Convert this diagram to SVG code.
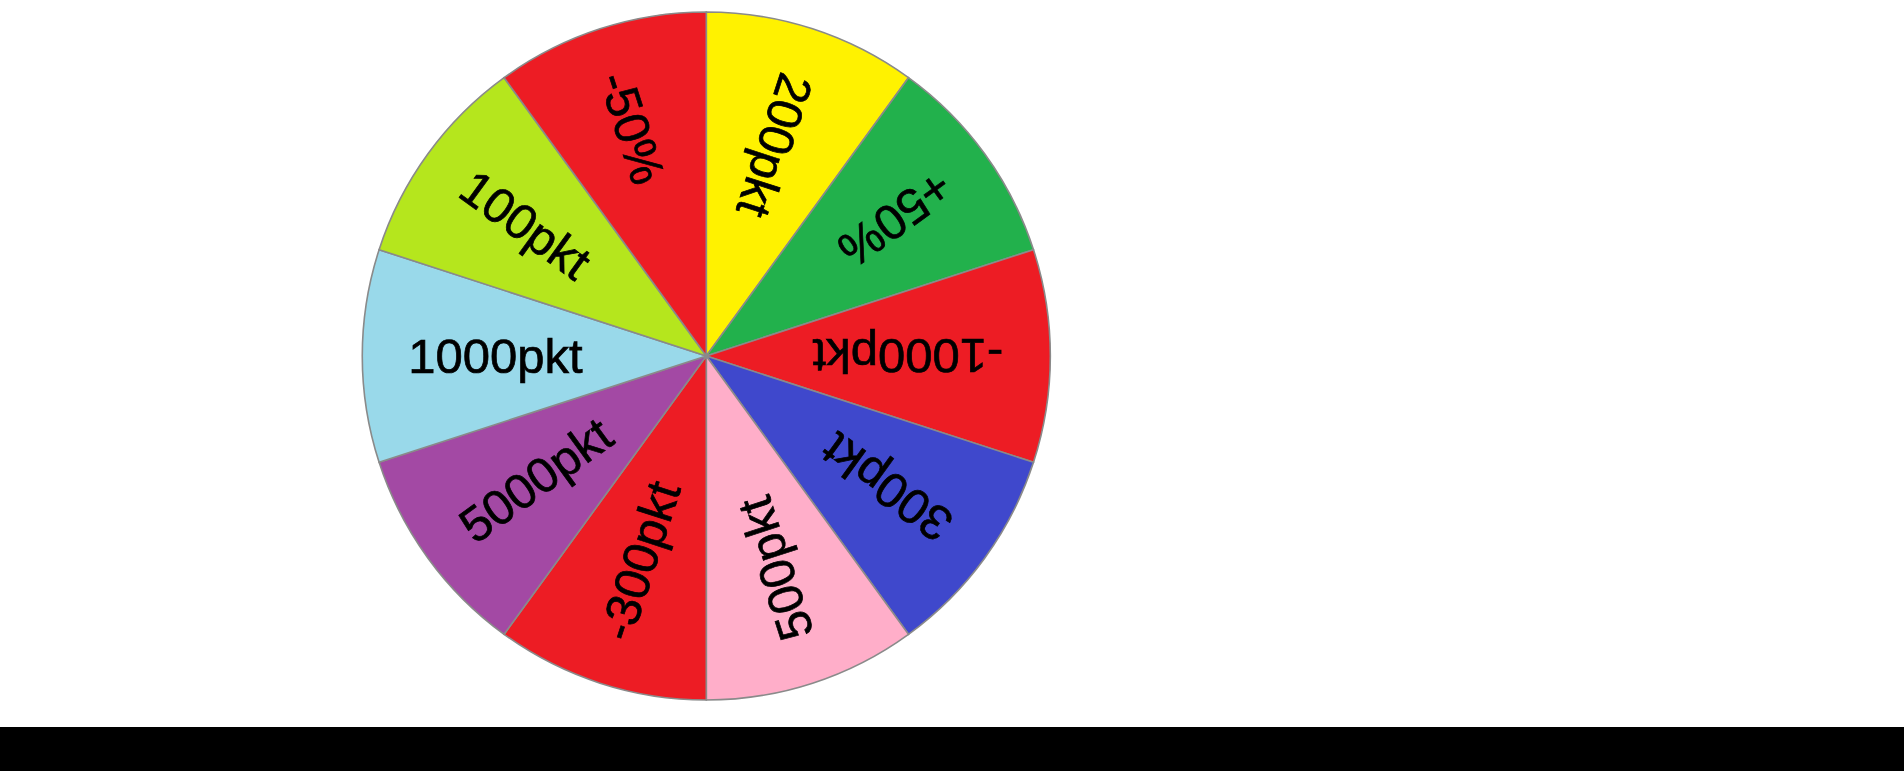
<svg xmlns="http://www.w3.org/2000/svg" width="1904" height="771" viewBox="0 0 1904 771">
<style>
.seg{stroke:#8a8a8a;stroke-width:1.6}
.lbl{font-family:"Liberation Sans",Arial,sans-serif;font-size:49px;fill:#000;stroke:#000;stroke-width:0.7}
</style>
<rect x="0" y="0" width="1904" height="771" fill="#fff"/>
<g id="wheel">
<g id="seg-200pkt"><path class="seg" fill="#FFF200" d="M706.3 356 L706.3 12 A344 344 0 0 1 908.5 77.7 Z"/></g>
<g id="seg-plus50"><path class="seg" fill="#22B14C" d="M706.3 356 L908.5 77.7 A344 344 0 0 1 1033.5 249.7 Z"/></g>
<g id="seg-minus1000pkt"><path class="seg" fill="#ED1C24" d="M706.3 356 L1033.5 249.7 A344 344 0 0 1 1033.5 462.3 Z"/></g>
<g id="seg-300pkt"><path class="seg" fill="#3F48CC" d="M706.3 356 L1033.5 462.3 A344 344 0 0 1 908.5 634.3 Z"/></g>
<g id="seg-500pkt"><path class="seg" fill="#FFAEC9" d="M706.3 356 L908.5 634.3 A344 344 0 0 1 706.3 700 Z"/></g>
<g id="seg-minus300pkt"><path class="seg" fill="#ED1C24" d="M706.3 356 L706.3 700 A344 344 0 0 1 504.1 634.3 Z"/></g>
<g id="seg-5000pkt"><path class="seg" fill="#A349A4" d="M706.3 356 L504.1 634.3 A344 344 0 0 1 379.1 462.3 Z"/></g>
<g id="seg-1000pkt"><path class="seg" fill="#99D9EA" d="M706.3 356 L379.1 462.3 A344 344 0 0 1 379.1 249.7 Z"/></g>
<g id="seg-100pkt"><path class="seg" fill="#B5E61D" d="M706.3 356 L379.1 249.7 A344 344 0 0 1 504.1 77.7 Z"/></g>
<g id="seg-minus50"><path class="seg" fill="#ED1C24" d="M706.3 356 L504.1 77.7 A344 344 0 0 1 706.3 12 Z"/></g>
</g>
<g id="labels" class="lbl">
<text transform="translate(706.3 356) rotate(108)" x="-295" y="17">200pkt</text>
<text transform="translate(706.3 356) rotate(144)" x="-297" y="17">+50%</text>
<text transform="translate(706.3 356) rotate(180)" x="-297" y="17">-1000pkt</text>
<text transform="translate(706.3 356) rotate(216)" x="-297" y="17">300pkt</text>
<text transform="translate(706.3 356) rotate(252)" x="-297" y="17">500pkt</text>
<text transform="translate(706.3 356) rotate(288)" x="-297" y="17">-300pkt</text>
<text transform="translate(706.3 356) rotate(324)" x="-298" y="17">5000pkt</text>
<text transform="translate(706.3 356)" x="-298" y="17">1000pkt</text>
<text transform="translate(706.3 356) rotate(36)" x="-297" y="17">100pkt</text>
<text transform="translate(706.3 356) rotate(72)" x="-297" y="17">-50%</text>
</g>
<rect x="0" y="727" width="1904" height="44" fill="#000"/>
</svg>
